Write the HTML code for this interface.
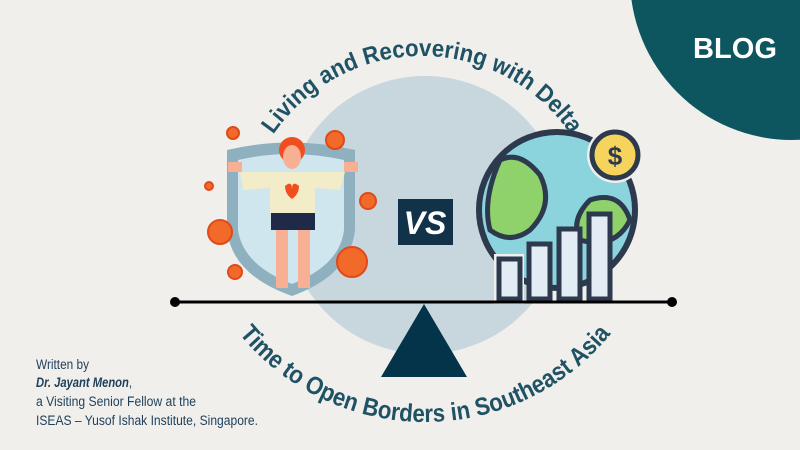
<!DOCTYPE html>
<html><head><meta charset="utf-8"><style>
html,body{margin:0;padding:0;background:#f0efec;}
svg{display:block;font-family:"Liberation Sans",sans-serif;}
</style></head><body>
<svg width="800" height="450" viewBox="0 0 800 450" xmlns="http://www.w3.org/2000/svg">
<rect width="800" height="450" fill="#f0efec"/>
<circle cx="792" cy="-22" r="162" fill="#0d5660"/>
<text x="693" y="58" font-size="29" font-weight="bold" fill="#fff" textLength="84" lengthAdjust="spacingAndGlyphs">BLOG</text>
<circle cx="425" cy="215" r="139" fill="#c8d6de"/>
<defs>
<path id="top" d="M 242 236 A 180 180 0 0 1 602 236"/>
<path id="bot" d="M 185 182 A 240 240 0 0 0 665 182"/>
</defs>
<text font-size="24" font-weight="bold" fill="#1f5264"><textPath href="#top" startOffset="50%" text-anchor="middle" textLength="350" lengthAdjust="spacingAndGlyphs">Living and Recovering with Delta</textPath></text>
<text font-size="25" font-weight="bold" fill="#1f5264"><textPath href="#bot" startOffset="50%" text-anchor="middle" textLength="425" lengthAdjust="spacingAndGlyphs">Time to Open Borders in Southeast Asia</textPath></text>
<!-- shield -->
<path d="M227 150 Q290 135 355 150 L355 230 Q350 275 292 296 Q232 275 227 230 Z" fill="#8fb0bf"/>
<path d="M238 160 Q290 148 344 160 L344 230 Q340 265 292 284 Q243 265 238 230 Z" fill="#cfe6ee"/>
<!-- viruses -->
<g fill="#f26a2a" stroke="#e04a1a" stroke-width="2">
<circle cx="233" cy="133" r="6"/><circle cx="209" cy="186" r="4"/><circle cx="220" cy="232" r="12"/>
<circle cx="235" cy="272" r="7"/><circle cx="368" cy="201" r="8"/><circle cx="352" cy="262" r="15"/><circle cx="335" cy="140" r="9"/>
</g>
<!-- person -->
<circle cx="292" cy="150" r="13" fill="#f04e1e"/>
<ellipse cx="292" cy="157" rx="9" ry="12" fill="#f8b094"/>
<path d="M240 172 L345 172 L340 190 L315 188 L315 213 L270 213 L270 188 L243 190 Z" fill="#f3ecc8"/>
<path d="M285 186 q7 -6 7 3 q0 -9 7 -3 q0 8 -7 13 q-7 -5 -7 -13z" fill="#f04e1e"/>
<rect x="271" y="213" width="44" height="17" fill="#1e2a48"/>
<rect x="276" y="230" width="12" height="58" fill="#f8b094"/><rect x="298" y="230" width="12" height="58" fill="#f8b094"/>
<rect x="228" y="162" width="14" height="10" fill="#f8b094"/><rect x="344" y="162" width="14" height="10" fill="#f8b094"/>
<!-- VS -->
<rect x="398" y="199" width="55" height="46" fill="#12324a"/>
<text x="425" y="234" font-size="32" font-weight="bold" font-style="italic" fill="#fff" text-anchor="middle">VS</text>
<!-- globe -->
<circle cx="557" cy="210" r="78" fill="#8bd3dd" stroke="#2d3a4e" stroke-width="6"/>
<path d="M500 160 Q520 150 540 175 Q555 205 530 230 Q510 245 490 230 Q482 200 500 160Z" fill="#8fd16a" stroke="#2d3a4e" stroke-width="5"/>
<path d="M590 200 Q620 190 630 220 Q615 250 580 240 Q570 220 590 200Z" fill="#8fd16a" stroke="#2d3a4e" stroke-width="5"/>
<circle cx="615" cy="155" r="28" fill="#f0efec"/>
<circle cx="615" cy="155" r="23" fill="#f6d35c" stroke="#2d3a4e" stroke-width="5"/>
<text x="615" y="165" font-size="26" font-weight="bold" fill="#2d3a4e" text-anchor="middle">$</text>
<g fill="#e3ecf4" stroke="#2d3a4e" stroke-width="5">
<rect x="494" y="254" width="30" height="50" fill="#f0efec" stroke="none"/>
<rect x="499" y="259" width="21" height="40"/><rect x="529" y="244" width="21" height="55"/>
<rect x="559" y="229" width="21" height="70"/><rect x="589" y="214" width="21" height="85"/>
</g>
<!-- seesaw -->
<line x1="175" y1="302" x2="672" y2="302" stroke="#000" stroke-width="3"/>
<circle cx="175" cy="302" r="5" fill="#000"/><circle cx="672" cy="302" r="5" fill="#000"/>
<polygon points="424,304 381,377 467,377" fill="#03344a"/>
<g font-size="13.5" fill="#1f3f5a">
<text x="36" y="369" textLength="53" lengthAdjust="spacingAndGlyphs">Written by</text>
<text x="36" y="387" font-weight="bold" font-style="italic" textLength="96" lengthAdjust="spacingAndGlyphs">Dr. Jayant Menon<tspan font-weight="normal" font-style="normal">,</tspan></text>
<text x="36" y="406" textLength="160" lengthAdjust="spacingAndGlyphs">a Visiting Senior Fellow at the</text>
<text x="36" y="425" textLength="222" lengthAdjust="spacingAndGlyphs">ISEAS – Yusof Ishak Institute, Singapore.</text>
</g>
</svg>
</body></html>
